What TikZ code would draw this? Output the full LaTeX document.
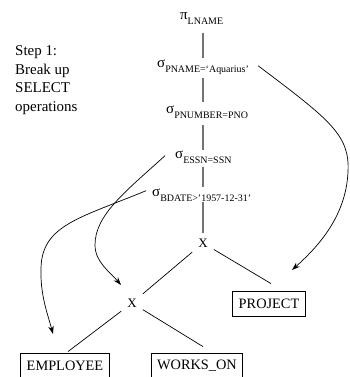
\documentclass[tikz,border=0pt]{standalone}
\usepackage{fontspec}
\setmainfont{Liberation Serif}
\usetikzlibrary{arrows.meta}
\newcommand\gkfont{\fontsize{15}{15}\selectfont}
\newcommand\subtxt[1]{\raisebox{-5bp}{\fontsize{10}{10}\selectfont #1}}
\begin{document}
\begin{tikzpicture}[x=1bp,y=-1bp,
  lbl/.style={inner sep=0pt, anchor=base west, font=\gkfont},
  axisline/.style={draw=black!55, line width=1.2bp},
  edge/.style={draw=black, line width=0.7bp},
  rel/.style={draw=black, line width=0.8bp, inner xsep=6bp, inner ysep=0pt, minimum height=25bp, font=\fontsize{14.4}{14.4}\selectfont},
  prod/.style={inner sep=6bp, font=\fontsize{13}{13}\selectfont},
  push/.style={draw=black, line width=0.7bp, -{Stealth[length=8bp,width=5.5bp]}},
  note/.style={inner sep=0pt, anchor=north west, align=left, font=\fontsize{15}{19}\selectfont}
]
\useasboundingbox (0,0) rectangle (350,377);

% step text
\node[note] (step) at (15,45) {Step 1:\\Break up\\SELECT\\operations};

% operator labels
\node[lbl] (pi) at (180,19) {π\subtxt{LNAME}};
\node[lbl] (s1) at (157,67) {σ\subtxt{PNAME=‘Aquarius’}};
\node[lbl] (s2) at (166,113) {σ\subtxt{PNUMBER=PNO}};
\node[lbl] (s3) at (175,158) {σ\subtxt{ESSN=SSN}};
\node[lbl] (s4) at (152,196) {σ\subtxt{BDATE>’1957-12-31’}};

% products
\node[prod] (X1) at (203,243) {X};
\node[prod] (X2) at (132,303) {X};

% relations
\node[rel] (PJ) at (269,303.5) {PROJECT};
\node[rel] (EMP) at (65,365.5) {EMPLOYEE};
\node[rel] (WO) at (197,365.5) {WORKS\_ON};

% axis coordinates
\coordinate (a1) at (203,33);
\coordinate (b1) at (203,58);
\coordinate (a2) at (203,78);
\coordinate (b2) at (203,102);
\coordinate (a3) at (203,125);
\coordinate (b3) at (203,150);
\coordinate (a4) at (203,167);
\coordinate (b4) at (203,187);
\coordinate (a5) at (203,202);

\draw[axisline] (a1) -- (b1);
\draw[axisline] (a2) -- (b2);
\draw[axisline] (a3) -- (b3);
\draw[axisline] (a4) -- (b4);
\draw[axisline] (a5) -- (X1.north);

% tree edges
\draw[edge] (X1) -- (X2);
\draw[edge] (X1) -- ([xshift=2bp,yshift=7bp]PJ.north);
\draw[edge] (X2) -- ([xshift=3bp,yshift=1bp]EMP.north);
\draw[edge] (X2) -- ([xshift=6bp,yshift=6bp]WO.north);

% push-down arrows
\coordinate (tipA) at (292,270);
\coordinate (tipB) at (121,285);
\coordinate (tipC) at (53,334);
\draw[push] ([xshift=9bp,yshift=1bp]s1.east) .. controls (330,120) and (350,135) .. (348,172)
   .. controls (346,215) and (320,245) .. (tipA);
\draw[push] ([xshift=-10bp,yshift=1bp]s3.west) .. controls (125,192) and (95,215) .. (95,245)
   .. controls (95,262) and (110,272) .. (tipB);
\draw[push] ([xshift=-6bp,yshift=4bp]s4.west) .. controls (80,218) and (42,225) .. (41,268)
   .. controls (40,295) and (48,315) .. (tipC);
\end{tikzpicture}
\end{document}
